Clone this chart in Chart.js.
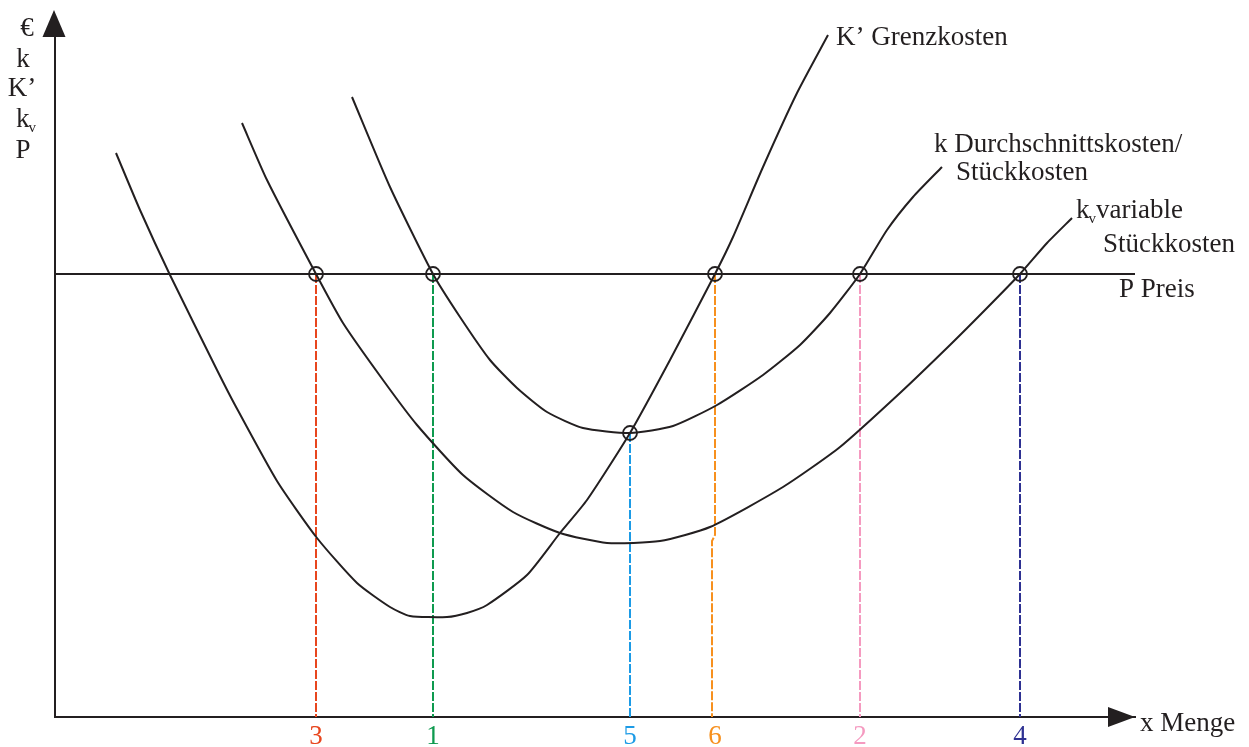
<!DOCTYPE html>
<html>
<head>
<meta charset="utf-8">
<script src="https://cdn.jsdelivr.net/npm/chart.js@4/dist/chart.umd.min.js"></script>
<style>
  html, body { margin: 0; padding: 0; background: #fff; }
  canvas { display: block; }
</style>
</head>
<body>
<canvas id="chart" width="1249" height="747"></canvas>
<script>
// --- Data (x = Menge, y = €) ---
const grenzX = [6.1, 8.5, 11.5, 16.2, 18.0, 22.2, 26.2, 30.2, 33.5, 35.5, 39.2, 41.2, 43.2, 47.2, 50.5, 53.2, 57.5, 61.5, 66.0, 67.8, 70.8, 74.2, 77.3];
const grenzY = [56.4, 50.7, 44.2, 34.7, 31.2, 23.6, 17.9, 13.4, 11.0, 10.1, 10.0, 10.4, 11.2, 14.2, 18.4, 21.7, 28.4, 35.7, 44.3, 48.0, 55.0, 62.4, 68.2];

const stueckX = [29.7, 33.5, 37.8, 40.5, 43.5, 46.2, 49.2, 52.8, 57.5, 61.8, 66.2, 70.8, 74.5, 77.5, 80.5, 83.2, 85.8, 88.7];
const stueckY = [62.0, 53.0, 44.3, 40.0, 35.7, 32.9, 30.5, 28.9, 28.4, 29.1, 31.2, 34.2, 37.2, 40.4, 44.3, 48.7, 52.0, 55.0];

const varX = [18.7, 21.2, 26.1, 28.8, 32.8, 36.2, 40.8, 45.8, 50.5, 55.2, 60.5, 65.5, 72.8, 78.5, 84.5, 89.5, 93.0, 96.5, 99.2, 101.7];
const varY = [59.4, 53.7, 44.3, 39.4, 33.7, 29.2, 24.2, 20.5, 18.4, 17.4, 17.6, 19.0, 23.0, 27.0, 32.4, 37.2, 40.7, 44.3, 47.4, 49.9];

const preis = 44.3;

// Schnittpunkte und Lote
const dropX = [26.1, 37.8, 57.5, 66.0, 80.5, 96.5];
const dropY = [44.3, 44.3, 28.4, 44.3, 44.3, 44.3];
const dropLabels = ["3", "1", "5", "6", "2", "4"];
const dropColors = ["#e8461e", "#0e9a4f", "#1c9be6", "#f7901e", "#f59ac0", "#2e3192"];

const INK = "#231f20";
const FONT = '"Liberation Serif", "Times New Roman", serif';

const pts = (xs, ys) => xs.map((x, i) => ({ x: x, y: ys[i] }));

const datasets = [];

// markers (first = drawn on top)
datasets.push({
  data: pts(dropX, dropY),
  showLine: false,
  pointStyle: "circle",
  pointRadius: 7,
  pointBorderWidth: 1.8,
  pointBorderColor: INK,
  pointBackgroundColor: "rgba(0,0,0,0)",
});

const curve = (data) => ({
  data: data,
  showLine: true,
  borderColor: INK,
  borderWidth: 2,
  pointRadius: 0,
  tension: 0.2,
  fill: false,
});

datasets.push(curve(pts(grenzX, grenzY)));
datasets.push(curve(pts(stueckX, stueckY)));
datasets.push(curve(pts(varX, varY)));
datasets.push({
  data: [{ x: 0, y: preis }, { x: 108, y: preis }],
  showLine: true,
  borderColor: INK,
  borderWidth: 2,
  pointRadius: 0,
});

dropX.forEach((x, i) => {
  let data = [{ x: x, y: dropY[i] }, { x: x, y: 0 }];
  if (dropLabels[i] === "6") {
    // small jog where the line meets k_v
    data = [{ x: x, y: dropY[i] }, { x: x, y: 18.2 }, { x: x - 0.3, y: 17.6 }, { x: x - 0.3, y: 0 }];
  }
  datasets.push({
    data: data,
    showLine: true,
    borderColor: dropColors[i],
    borderWidth: 2,
    borderDash: [9, 2],
    pointRadius: 0,
    tension: 0,
  });
});

// --- Axis arrows and text ---
const decorations = {
  id: "decorations",
  afterDraw(chart) {
    const { ctx, chartArea } = chart;
    const { left, right, bottom } = chartArea;
    ctx.save();
    ctx.fillStyle = INK;

    // y arrow
    ctx.beginPath();
    ctx.moveTo(left - 1, 10);
    ctx.lineTo(left - 12.5, 37);
    ctx.lineTo(left + 10.5, 37);
    ctx.closePath();
    ctx.fill();

    // x arrow
    ctx.beginPath();
    ctx.moveTo(right, bottom);
    ctx.lineTo(right - 27, bottom - 10);
    ctx.lineTo(right - 27, bottom + 10);
    ctx.closePath();
    ctx.fill();

    ctx.textBaseline = "alphabetic";
    const big = "27px " + FONT;
    const small = "15px " + FONT;

    function sub(text, subText, x, y, rest) {
      ctx.font = big;
      ctx.textAlign = "left";
      ctx.fillText(text, x, y);
      const w = ctx.measureText(text).width;
      ctx.font = small;
      ctx.fillText(subText, x + w - 1, y + 5);
      if (rest) {
        const sw = ctx.measureText(subText).width;
        ctx.font = big;
        ctx.fillText(rest, x + w + sw - 1, y);
      }
    }

    // left label stack
    ctx.font = big;
    ctx.textAlign = "center";
    ctx.fillText("€", 27, 36);
    ctx.fillText("k", 23, 67);
    ctx.fillText("K’", 22, 96);
    sub("k", "v", 16, 127);
    ctx.font = big;
    ctx.textAlign = "center";
    ctx.fillText("P", 23, 158);

    ctx.textAlign = "left";
    ctx.font = big;
    ctx.fillText("K’ Grenzkosten", 836, 45);
    ctx.fillText("k Durchschnittskosten/", 934, 152);
    ctx.fillText("Stückkosten", 956, 180);
    sub("k", "v", 1076, 218, "variable");
    ctx.font = big;
    ctx.fillText("Stückkosten", 1103, 252);
    ctx.fillText("P Preis", 1119, 297);
    ctx.fillText("x Menge", 1140, 731);
    ctx.restore();
  },
};

new Chart(document.getElementById("chart"), {
  type: "scatter",
  data: { datasets: datasets },
  options: {
    responsive: false,
    animation: false,
    devicePixelRatio: 1,
    layout: { padding: { left: 0, right: 114, top: 17, bottom: 0 } },
    plugins: {
      legend: { display: false },
      tooltip: { enabled: false },
    },
    scales: {
      x: {
        type: "linear",
        min: 0,
        max: 108,
        grid: { display: false, drawTicks: false },
        border: { display: true, color: INK, width: 2 },
        afterFit(scale) { scale.height = 30; },
        afterBuildTicks(scale) { scale.ticks = dropX.map((v) => ({ value: v })); },
        ticks: {
          autoSkip: false,
          maxRotation: 0,
          padding: 4,
          font: { family: FONT, size: 27 },
          color: (c) => dropColors[c.index],
          callback: (v, i) => dropLabels[i],
        },
      },
      y: {
        type: "linear",
        min: 0,
        max: 70,
        grid: { display: false, drawTicks: false },
        border: { display: true, color: INK, width: 2 },
        afterFit(scale) { scale.width = 55; },
        ticks: { display: false },
      },
    },
  },
  plugins: [decorations],
});
</script>
</body>
</html>
